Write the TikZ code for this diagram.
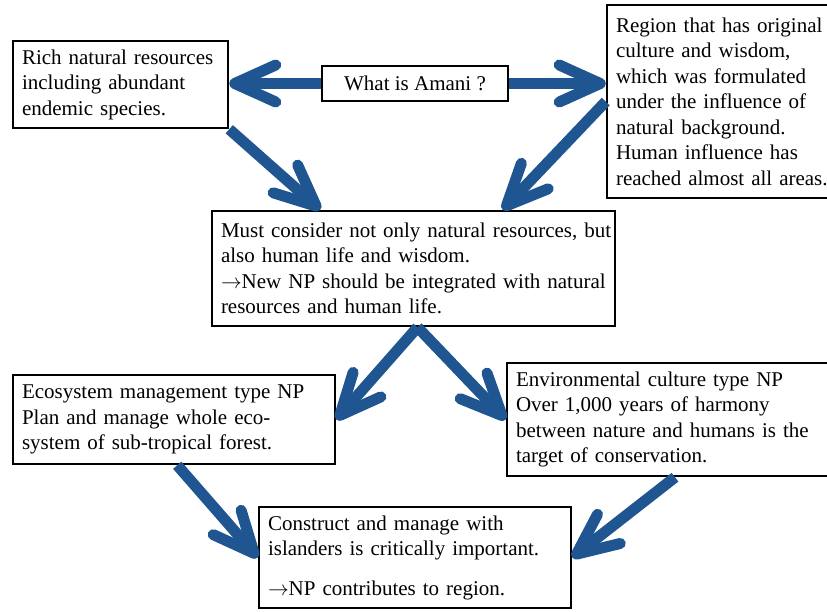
\documentclass[tikz,border=0pt]{standalone}
\usepackage{fontspec}
\setmainfont{Liberation Serif}
\usepackage{xcolor}
\usetikzlibrary{calc, arrows.meta}
\definecolor{arrowblue}{RGB}{31,86,145}

\begin{document}
\begin{tikzpicture}[x = 1pt, y = -1pt,
		textbox/.style = {draw, line width = 2.5pt, align = left, inner xsep = 0pt, inner ysep = 0pt, font = \fontsize{21}{25.5}\selectfont, execute at begin node = {\leftskip = 9pt\rightskip = 0pt minus 40pt}},
		bigarrow/.style = {arrowblue, line width = 11pt, -{Straight Barb[length = 41pt, width = 37pt, round]}}]
	\useasboundingbox (0,0) rectangle (827,611);

	\begin{scope}
		\node [textbox, text width = 215pt, minimum height = 87pt] (rich) at (120.5,84.5) {Rich natural resources\\including abundant\\endemic species.};
		\node [textbox, align = center, minimum width = 186pt, minimum height = 35pt] (amani) at (415,83.5) {What is Amani ?};
		\node [textbox, text width = 225pt, minimum height = 193pt] (region) at (719.5,101.5) {Region that has original\\culture and wisdom,\\which was formulated\\under the influence of\\natural background.\\Human influence has\\reached almost all areas.};
		\node [textbox, text width = 403pt, minimum height = 115pt] (must) at (413.5,268.5) {Must consider not only natural resources, but\\also human life and wisdom.\\$\rightarrow$New NP should be integrated with natural\\resources and human life.};
		\node [textbox, text width = 322pt, minimum height = 89pt] (eco) at (174,419.5) {Ecosystem management type NP\\Plan and manage whole eco-\\system of sub-tropical forest.};
		\node [textbox, text width = 323pt, minimum height = 113pt] (env) at (668.5,419.5) {Environmental culture type NP\\Over 1,000 years of harmony\\between nature and humans is the\\target of conservation.};
		\node [textbox, text width = 312pt, minimum height = 101pt] (construct) at (415,557.5) {Construct and manage with\\islanders is critically important.\\[14pt]$\rightarrow$NP contributes to region.};
	\end{scope}

	\coordinate (mustout) at ($(must.south west)!0.51!(must.south east)$);

	\begin{scope}
		\draw [bigarrow] (amani.west) -- (amani.west -| rich.east);
		\draw [bigarrow] (amani.east) -- (amani.east -| region.west);
		\draw [bigarrow] (rich.south east) -- ($(must.north west)!0.27!(must.north east)$);
		\draw [bigarrow] (region.west) -- ($(must.north west)!0.72!(must.north east)$);
		\draw [bigarrow] (mustout) -- (eco.east);
		\draw [bigarrow] (mustout) -- (env.west);
		\draw [bigarrow] ($(eco.south west)!0.51!(eco.south east)$) -- (construct.west);
		\draw [bigarrow] ($(env.south west)!0.52!(env.south east)$) -- (construct.east);
	\end{scope}
\end{tikzpicture}
\end{document}
